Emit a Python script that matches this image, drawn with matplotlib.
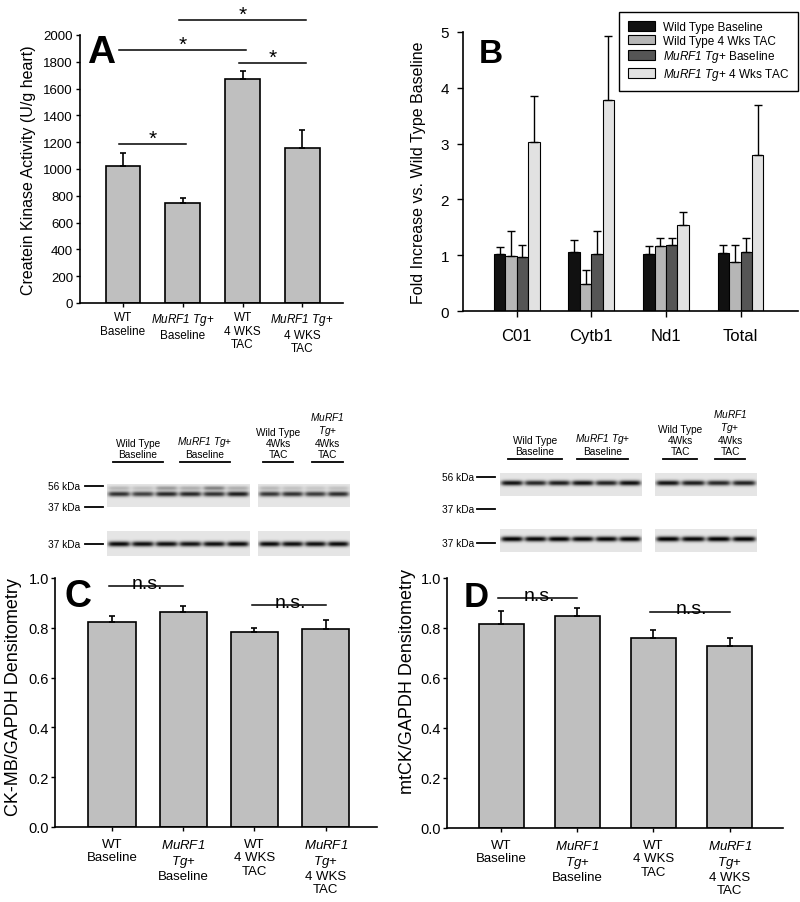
import matplotlib
matplotlib.use("Agg")
import matplotlib.pyplot as plt
import numpy as np

plt.rcParams['font.family'] = ['Liberation Sans', 'DejaVu Sans']
plt.rcParams['mathtext.fontset'] = 'custom'
plt.rcParams['mathtext.rm'] = 'Liberation Sans'
plt.rcParams['mathtext.it'] = 'Liberation Sans:italic'
plt.rcParams['mathtext.sf'] = 'Liberation Sans:italic'  # italic digits too (mathit sends digits to rm)
plt.rcParams['mathtext.bf'] = 'Liberation Sans:bold'

W, H = 800, 903
MURF = r"$\mathsf{MuRF1\ Tg}$+"
MURF_A = r"$\mathsf{MuRF1}$"
TG_A = r"$\mathsf{Tg}$+"

# ---- panel A: creatine kinase activity ----
ck_groups = ["WT\nBaseline", MURF + "\nBaseline", "WT\n4 WKS\nTAC", MURF + "\n4 WKS\nTAC"]
ck_activity = [1020, 745, 1670, 1160]
ck_activity_err = [100, 35, 65, 130]
ck_sig = [(0, 1, 1190), (0, 2, 1890), (2, 3, 1790), (1, 3, 2110)]  # (from, to, height)

# ---- panel B: mitochondrial DNA ----
mt_genes = ["C01", "Cytb1", "Nd1", "Total"]
mt_series = ["Wild Type Baseline", "Wild Type 4 Wks TAC", MURF + " Baseline", MURF + " 4 Wks TAC"]
mt_wt_base = [1.03, 1.06, 1.03, 1.04]
mt_wt_base_err = [0.12, 0.22, 0.13, 0.14]
mt_wt_tac = [0.98, 0.49, 1.16, 0.88]
mt_wt_tac_err = [0.45, 0.24, 0.15, 0.31]
mt_tg_base = [0.96, 1.02, 1.19, 1.06]
mt_tg_base_err = [0.23, 0.41, 0.12, 0.25]
mt_tg_tac = [3.03, 3.79, 1.55, 2.80]
mt_tg_tac_err = [0.82, 1.13, 0.22, 0.90]
mt_colors = ['#111111', '#b6b6b6', '#555555', '#e2e2e2']

# ---- panels C/D: densitometry ----
dens_groups = ["WT\nBaseline", MURF_A + "\n" + TG_A + "\nBaseline",
               "WT\n4 WKS\nTAC", MURF_A + "\n" + TG_A + "\n4 WKS\nTAC"]
ckmb_dens = [0.822, 0.865, 0.783, 0.797]
ckmb_dens_err = [0.024, 0.022, 0.016, 0.035]
ckmb_ns = [(0, 1, 0.969), (2, 3, 0.893)]
mtck_dens = [0.815, 0.847, 0.762, 0.728]
mtck_dens_err = [0.055, 0.032, 0.030, 0.031]
mtck_ns = [(0, 1, 0.920), (2, 3, 0.866)]

# ---- western blots: band darkness per lane (6 baseline lanes, 4 TAC lanes) ----
blot_lane_groups = ["Wild Type\nBaseline", MURF + "\nBaseline", "Wild Type\n4Wks\nTAC",
                    MURF_A + "\n" + TG_A + "\n4Wks\nTAC"]
ckmb_band = [0.72, 0.66, 0.76, 0.76, 0.72, 0.80, 0.70, 0.72, 0.68, 0.74]
ckmb_upper = [0.18, 0.14, 0.30, 0.22, 0.40, 0.22, 0.18, 0.14, 0.12, 0.14]
ckmb_gapdh = [0.88, 0.86, 0.86, 0.84, 0.86, 0.88, 0.88, 0.86, 0.86, 0.88]
mtck_band = [0.84, 0.76, 0.80, 0.84, 0.78, 0.86, 0.84, 0.80, 0.76, 0.78]
mtck_gapdh = [0.92, 0.90, 0.92, 0.90, 0.90, 0.92, 0.92, 0.90, 0.92, 0.92]

bar_gray = '#bfbfbf'
fig = plt.figure(figsize=(W / 100, H / 100), dpi=100)


def px_axes(l, t, r, b):
    return fig.add_axes([l / W, 1 - b / H, (r - l) / W, (b - t) / H])


def style(ax, lw=1.2):
    for s in ['top', 'right']:
        ax.spines[s].set_visible(False)
    for s in ['left', 'bottom']:
        ax.spines[s].set_linewidth(lw)
    ax.tick_params(direction='out', length=3, width=1)


def simple_bars(ax, vals, errs, width, capsize):
    x = np.arange(len(vals))
    ax.bar(x, vals, width=width, color=bar_gray, edgecolor='black', linewidth=1.2, zorder=2)
    ax.errorbar(x, vals, yerr=[np.zeros(len(errs)), errs], fmt='none', ecolor='black',
                elinewidth=1.2, capsize=capsize, capthick=1.2, zorder=3)
    return x


# ================= A =================
axA = px_axes(80, 36, 343, 304)
style(axA)
xA = simple_bars(axA, ck_activity, ck_activity_err, 0.58, 2)
axA.set_xlim(-0.72, 3.68)
axA.set_ylim(0, 2000)
axA.set_yticks(np.arange(0, 2001, 200))
axA.set_xticks(xA)
axA.set_xticklabels(ck_groups, fontsize=8.5, linespacing=1.15)
axA.tick_params(axis='y', labelsize=9.5, pad=2)
axA.tick_params(axis='x', pad=3)
axA.set_ylabel("Createin Kinase Activity (U/g heart)", fontsize=11.5, va='center')
axA.yaxis.set_label_coords(-0.194, 0.5)
for i, j, h in ck_sig:
    axA.plot([xA[i] - 0.06, xA[j] + 0.06], [h, h], color='black', lw=1.1, clip_on=False)
    axA.text((xA[i] + xA[j]) / 2, h, "*", ha='center', va='baseline', fontsize=15)
fig.text(101 / W, 1 - 63 / H, "A", fontsize=28, fontweight='bold', ha='center', va='baseline')

# ================= B =================
axB = px_axes(463, 33, 798, 312)
style(axB)
xB = np.arange(len(mt_genes))
bw = 0.153
offsets = (np.arange(4) - 1.5) * bw
mt_vals = [mt_wt_base, mt_wt_tac, mt_tg_base, mt_tg_tac]
mt_errs = [mt_wt_base_err, mt_wt_tac_err, mt_tg_base_err, mt_tg_tac_err]
for k in range(4):
    axB.bar(xB + offsets[k], mt_vals[k], width=bw, color=mt_colors[k], edgecolor='black',
            linewidth=0.8, label=mt_series[k], zorder=2)
    axB.errorbar(xB + offsets[k], mt_vals[k], yerr=[np.zeros(4), mt_errs[k]], fmt='none',
                 ecolor='black', elinewidth=1.0, capsize=2.9, capthick=1.0, zorder=3)
axB.set_xlim(-0.72, 3.77)
axB.set_ylim(0, 5)
axB.set_yticks(range(6))
axB.set_xticks(xB)
axB.set_xticklabels(mt_genes, fontsize=12)
axB.tick_params(axis='y', labelsize=11, pad=6, length=4)
axB.tick_params(axis='x', pad=8, length=4)
axB.set_ylabel("Fold Increase vs. Wild Type Baseline", fontsize=11.5, va='center')
axB.yaxis.set_label_coords(-0.134, 0.5)
leg = axB.legend(loc='upper right', bbox_to_anchor=(798 / W, 1 - 13 / H), bbox_transform=fig.transFigure,
                 borderaxespad=0, fontsize=8.5, frameon=True, fancybox=False, framealpha=1,
                 edgecolor='black', borderpad=0.75, handlelength=2.3, handleheight=0.9,
                 labelspacing=0.15, handletextpad=0.6)
leg.get_frame().set_linewidth(1.0)
fig.text(491 / W, 1 - 63 / H, "B", fontsize=24, fontweight='bold', ha='center', va='baseline')

# ================= C / D =================
def dens_panel(box, vals, errs, ns, width, xlim, ylab, lab_xy, letter, letter_xy, letter_size):
    ax = px_axes(*box)
    style(ax)
    x = simple_bars(ax, vals, errs, width, 2.2)
    ax.set_xlim(*xlim)
    ax.set_ylim(0, 1.0)
    yt = np.arange(0, 1.01, 0.2)
    ax.set_yticks(yt)
    ax.set_yticklabels([f"{v:.1f}" for v in yt])
    ax.set_xticks(x)
    ax.set_xticklabels(dens_groups, fontsize=9.5, linespacing=1.15)
    ax.tick_params(axis='y', labelsize=10.5, pad=1.5)
    ax.tick_params(axis='x', pad=5)
    ax.set_ylabel(ylab, fontsize=13, va='center')
    ax.yaxis.set_label_coords(*lab_xy)
    for i, j, h in ns:
        ax.plot([x[i] - 0.04, x[j]], [h, h], color='black', lw=1.1, clip_on=False)
        ax.text((x[i] + x[j]) / 2, h - 0.008, "n.s.", ha='center', va='baseline', fontsize=14,
                clip_on=False)
    fig.text(letter_xy[0] / W, 1 - letter_xy[1] / H, letter, fontsize=letter_size,
             fontweight='bold', ha='center', va='baseline')
    return ax


dens_panel((55, 579, 377, 828), ckmb_dens, ckmb_dens_err, ckmb_ns, 0.66, (-0.80, 3.72),
           "CK-MB/GAPDH Densitometry", (-0.130, 0.526), "C", (78, 607), 27)
dens_panel((447, 579, 783, 829), mtck_dens, mtck_dens_err, mtck_ns, 0.59, (-0.71, 3.70),
           "mtCK/GAPDH Densitometry", (-0.119, 0.59), "D", (476, 607), 25)

# ================= western blots =================
ov = fig.add_axes([0, 0, 1, 1], zorder=-1)
ov.set_xlim(0, W)
ov.set_ylim(H, 0)
ov.axis('off')


def draw_gel(x0, x1, y0, y1, band_y, bands, upper=None, sigma=2.6):
    nx, ny = int((x1 - x0) * 3), int((y1 - y0) * 3)
    X, Y = np.meshgrid(np.linspace(x0, x1, nx), np.linspace(y0, y1, ny))
    img = np.full(X.shape, 0.90)
    lane_w = (x1 - x0) / len(bands)
    for k, b in enumerate(bands):
        cx = x0 + (k + 0.5) * lane_w
        prof = 1 / (1 + np.exp((np.abs(X - cx) - 0.43 * lane_w) / 1.3))
        img -= b * prof * np.exp(-((Y - band_y) / sigma) ** 2)
        if upper is not None:
            img -= upper[k] * prof * np.exp(-((Y - band_y + 6) / (sigma * 0.8)) ** 2)
    ov.imshow(np.clip(img, 0, 1), cmap='gray', vmin=0, vmax=1, extent=(x0, x1, y1, y0),
              aspect='auto', interpolation='bilinear')


def blot(left_x, right_x, top_rows, bottom_row, markers, mark_x, headers, head_y,
         bands_top, upper_top, bands_bot):
    (ty0, ty1, tb), (by0, by1, bb) = top_rows, bottom_row
    draw_gel(left_x[0], left_x[1], ty0, ty1, tb, bands_top[:6], None if upper_top is None else upper_top[:6])
    draw_gel(right_x[0], right_x[1], ty0, ty1, tb, bands_top[6:], None if upper_top is None else upper_top[6:])
    draw_gel(left_x[0], left_x[1], by0, by1, bb, bands_bot[:6])
    draw_gel(right_x[0], right_x[1], by0, by1, bb, bands_bot[6:])
    for lab, y in markers:
        ov.text(mark_x[0], y, lab, ha='right', va='center', fontsize=7.3)
        ov.plot([mark_x[1], mark_x[2]], [y, y], color='black', lw=1.3)
    for lab, (a, b) in zip(blot_lane_groups, headers):
        ov.plot([a, b], [head_y, head_y], color='black', lw=1.3)
        ov.text((a + b) / 2, head_y - 3, lab, ha='center', va='bottom', fontsize=7.3, linespacing=1.1)


blot((107, 250), (258, 350), (485, 508, 495), (532, 557, 545),
     [("56 kDa", 487), ("37 kDa", 508), ("37 kDa", 545)], (80, 85, 103),
     [(113, 163), (180, 230), (263, 293), (312, 343)], 463,
     ckmb_band, ckmb_upper, ckmb_gapdh)
blot((500, 642), (655, 757), (474, 497, 484), (530, 553, 540),
     [("56 kDa", 478), ("37 kDa", 510), ("37 kDa", 544)], (474, 477, 495),
     [(508, 562), (577, 628), (663, 697), (715, 745)], 460,
     mtck_band, None, mtck_gapdh)

fig.savefig("out.png", dpi=100)
